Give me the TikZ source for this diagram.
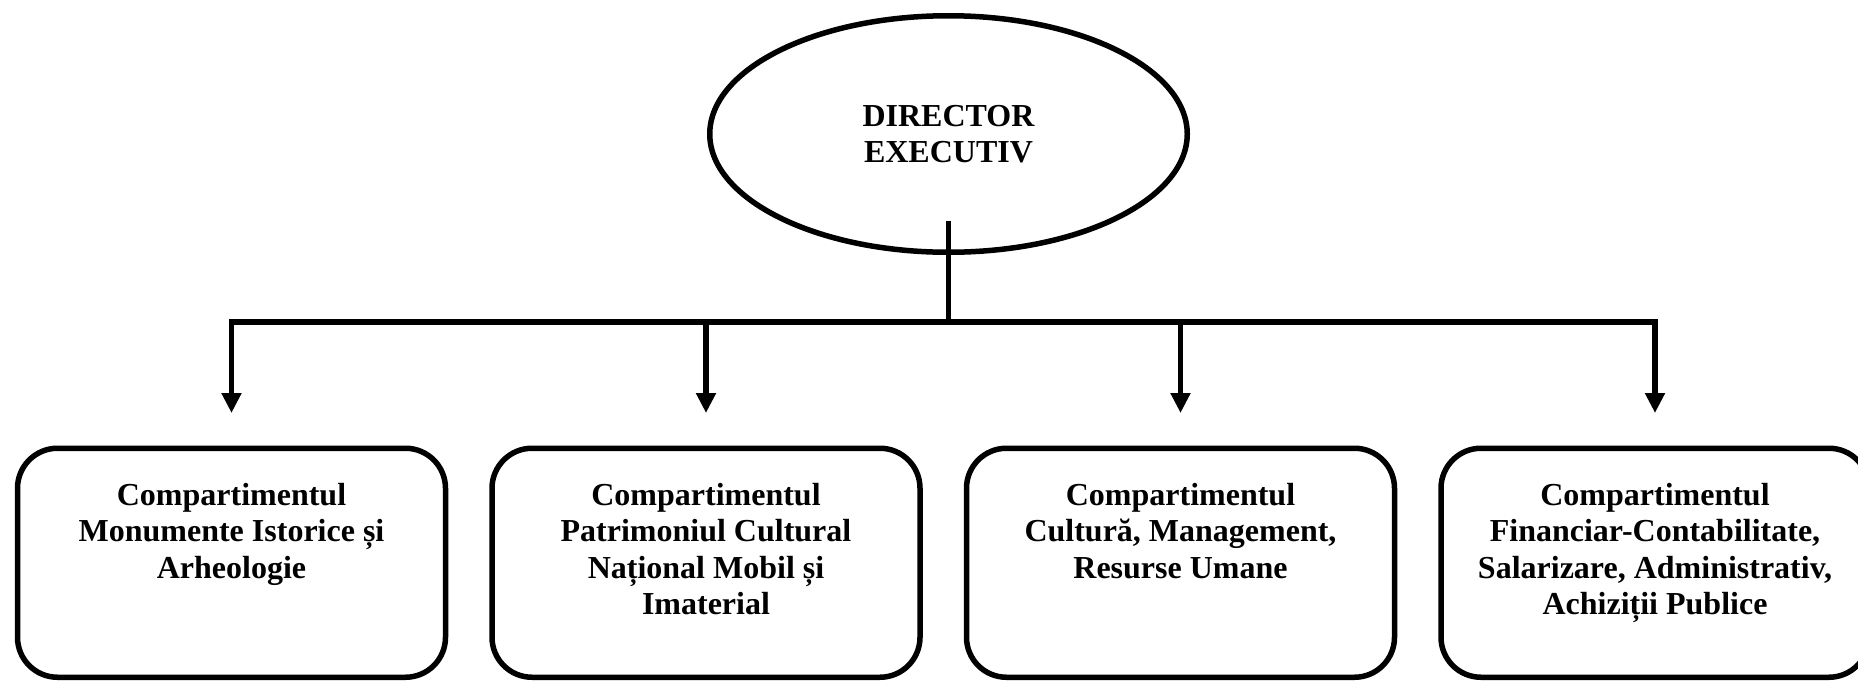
\documentclass[tikz,border=0pt]{standalone}
\usepackage{fontspec}
\setmainfont{Liberation Serif}
\usetikzlibrary{arrows.meta,%
                shapes.geometric,positioning}

\begin{document}
\begin{tikzpicture}[x=1pt,y=-1pt]
  \tikzset{DirectorStyle/.style = {shape          = ellipse,
                                   draw,
                                   inner sep      = 0pt,
                                   minimum width  = 477.5pt,
                                   minimum height = 236.5pt,
                                   align          = center},
           DeptStyle/.style     = {shape          = rectangle,
                                   draw,
                                   rounded corners = 40pt,
                                   inner sep      = 0pt,
                                   minimum width  = 428pt,
                                   minimum height = 229pt},
           DeptText/.style      = {align          = center,
                                   inner sep      = 0pt}}
  \useasboundingbox (0,0) rectangle (1858,681);
  \begin{scope}[line width=5.5pt, every node/.append style={font=\fontsize{32}{36.5}\selectfont\bfseries}, arrowlink/.style={-{Triangle[length=20pt,width=19pt]}, shorten >=32.5pt}]
	%%% DIRECTOR EXECUTIV %%%
	\node[DirectorStyle](dir) at (948.5,134){DIRECTOR\\EXECUTIV};
	\coordinate[below=67pt of dir.south](hub);
	%%% COMPARTIMENTE %%%
	\tikzset{node distance = 41pt}
	\node[DeptStyle](c1) at (231.5,562.75){};
	\node[DeptStyle, right=of c1](c2){};
	\node[DeptStyle, right=of c2](c3){};
	\node[DeptStyle, right=of c3](c4){};
	%
	\node[DeptText, below=35pt of c1.north](t1){Compartimentul\\Monumente Istorice și\\Arheologie};
	\node[DeptText, below=35pt of c2.north](t2){Compartimentul\\Patrimoniul Cultural\\Național Mobil și\\Imaterial};
	\node[DeptText, below=35pt of c3.north](t3){Compartimentul\\Cultură, Management,\\Resurse Umane};
	\node[DeptText, below=35pt of c4.north](t4){Compartimentul\\Financiar-Contabilitate,\\Salarizare, Administrativ,\\Achiziții Publice};
	%%% LEGATURI %%%
	\draw[shorten <=-34pt](dir.south) -- (hub);
	\draw[line cap=rect](c1.north |- hub) -- (c4.north |- hub);
	\draw[arrowlink](c1.north |- hub) -- (c1.north);
	\draw[arrowlink](c2.north |- hub) -- (c2.north);
	\draw[arrowlink](c3.north |- hub) -- (c3.north);
	\draw[arrowlink](c4.north |- hub) -- (c4.north);
  \end{scope}
\end{tikzpicture}
\end{document}
